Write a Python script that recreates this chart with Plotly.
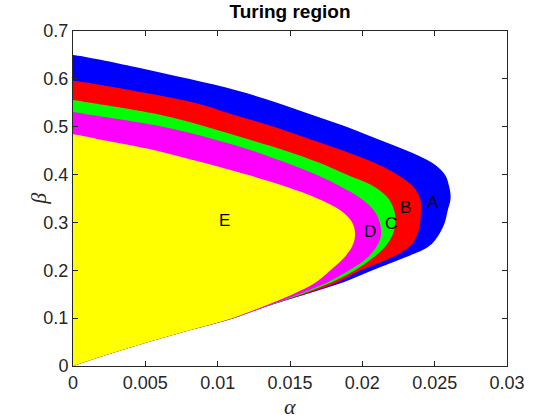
import plotly.graph_objects as go

# beta grid (y values) shared by all regions
beta_grid = [0.0, 0.025, 0.05, 0.075, 0.1, 0.125, 0.15, 0.175, 0.2, 0.225, 0.25,
             0.275, 0.3, 0.325, 0.35, 0.375, 0.4, 0.425, 0.45, 0.475, 0.5, 0.525,
             0.55, 0.575, 0.6, 0.625]

# right edge (alpha) of each Turing region at each beta
alpha_A = [0.0, 0.0025, 0.0052, 0.0081, 0.0111, 0.0134, 0.0161, 0.0187, 0.0207, 0.0228, 0.0246,
           0.0253, 0.0257, 0.0259, 0.0261, 0.0260, 0.0257, 0.0248, 0.0231, 0.0210, 0.0189, 0.0165,
           0.0141, 0.0114, 0.0080, 0.0043]
alpha_B = [0.0, 0.0025, 0.0052, 0.0081, 0.0111, 0.0134, 0.0160, 0.0183, 0.0199, 0.0219, 0.0233,
           0.0238, 0.0240, 0.02405, 0.0240, 0.0235, 0.0224, 0.0208, 0.0187, 0.0163, 0.0139, 0.0111,
           0.0084, 0.0042]
alpha_C = [0.0, 0.0025, 0.0052, 0.0081, 0.0111, 0.0134, 0.0158, 0.0179, 0.0195, 0.0207, 0.0216,
           0.0221, 0.0223, 0.0222, 0.0218, 0.0208, 0.0189, 0.0170, 0.0147, 0.0120, 0.0092, 0.0060,
           0.0012]
alpha_D = [0.0, 0.0025, 0.0052, 0.0081, 0.0111, 0.0134, 0.0156, 0.0176, 0.0191, 0.0203, 0.0210,
           0.0213, 0.0212, 0.0208, 0.0199, 0.0185, 0.0168, 0.0147, 0.0124, 0.0096, 0.0062, 0.0012]
alpha_E = [0.0, 0.0025, 0.0052, 0.0081, 0.0110, 0.0132, 0.0152, 0.0168, 0.0178, 0.0187, 0.0193,
           0.0195, 0.0193, 0.0185, 0.0169, 0.0147, 0.0120, 0.0090, 0.0058, 0.0016]

# beta where each region meets the alpha = 0 axis
beta_top = {"A": 0.650, "B": 0.596, "C": 0.556, "D": 0.531, "E": 0.484}

region_names = ["A", "B", "C", "D", "E"]
region_alphas = [alpha_A, alpha_B, alpha_C, alpha_D, alpha_E]
region_colors = ["#0000ff", "#ff0000", "#00ff00", "#ff00ff", "#ffff00"]

# label positions
label_text = ["A", "B", "C", "D", "E"]
label_alpha = [0.0249, 0.0230, 0.0220, 0.0205, 0.0105]
label_beta = [0.342, 0.332, 0.297, 0.281, 0.303]

fig = go.Figure()
for name, al, col in zip(region_names, region_alphas, region_colors):
    n = len(al)
    xs = list(al) + [0.0, -0.0005, -0.0005]
    ys = list(beta_grid[:n]) + [beta_top[name], beta_top[name], 0.0]
    fig.add_trace(go.Scatter(x=xs, y=ys, mode="lines", fill="toself",
                             fillcolor=col, line=dict(width=0, color=col, shape="spline",
                                                      smoothing=1.0),
                             hoverinfo="skip", showlegend=False))

for t, a, b in zip(label_text, label_alpha, label_beta):
    fig.add_annotation(x=a, y=b, text=t, showarrow=False,
                       font=dict(family="Liberation Sans, Arial", size=17, color="black"))

axis_common = dict(showline=True, linecolor="#262626", linewidth=1, mirror="ticks",
                   ticks="inside", ticklen=5, tickcolor="#262626", showgrid=False,
                   zeroline=False,
                   tickfont=dict(family="Liberation Sans, Arial", size=18, color="#262626"))

fig.update_layout(
    width=560, height=420,
    margin=dict(l=73, r=53, t=31, b=54),
    paper_bgcolor="white", plot_bgcolor="white",
    title=dict(text="<b>Turing region</b>", x=0.5, xanchor="center", xref="paper",
               y=1, yref="container", yanchor="top", pad=dict(t=5),
               font=dict(family="Liberation Sans, Arial", size=19, color="black")),
    xaxis=dict(range=[0, 0.03], tickvals=[0, 0.005, 0.01, 0.015, 0.02, 0.025, 0.03],
               ticktext=["0", "0.005", "0.01", "0.015", "0.02", "0.025", "0.03"], **axis_common),
    yaxis=dict(range=[0, 0.7], tickvals=[0, 0.1, 0.2, 0.3, 0.4, 0.5, 0.6, 0.7],
               ticktext=["0", "0.1", "0.2", "0.3", "0.4", "0.5", "0.6", "0.7"], **axis_common),
)

fig.add_annotation(x=0.5, y=-0.12, xref="paper", yref="paper", text="α", showarrow=False,
                   yanchor="middle",
                   font=dict(family="Liberation Serif, DejaVu Serif", size=22, color="#262626",
                             style="italic"))
fig.add_annotation(x=-0.08, y=0.5, xref="paper", yref="paper", text="β", showarrow=False,
                   textangle=-90, xanchor="center",
                   font=dict(family="Liberation Serif, DejaVu Serif", size=22, color="#262626",
                             style="italic"))

fig.write_html("out.html")
